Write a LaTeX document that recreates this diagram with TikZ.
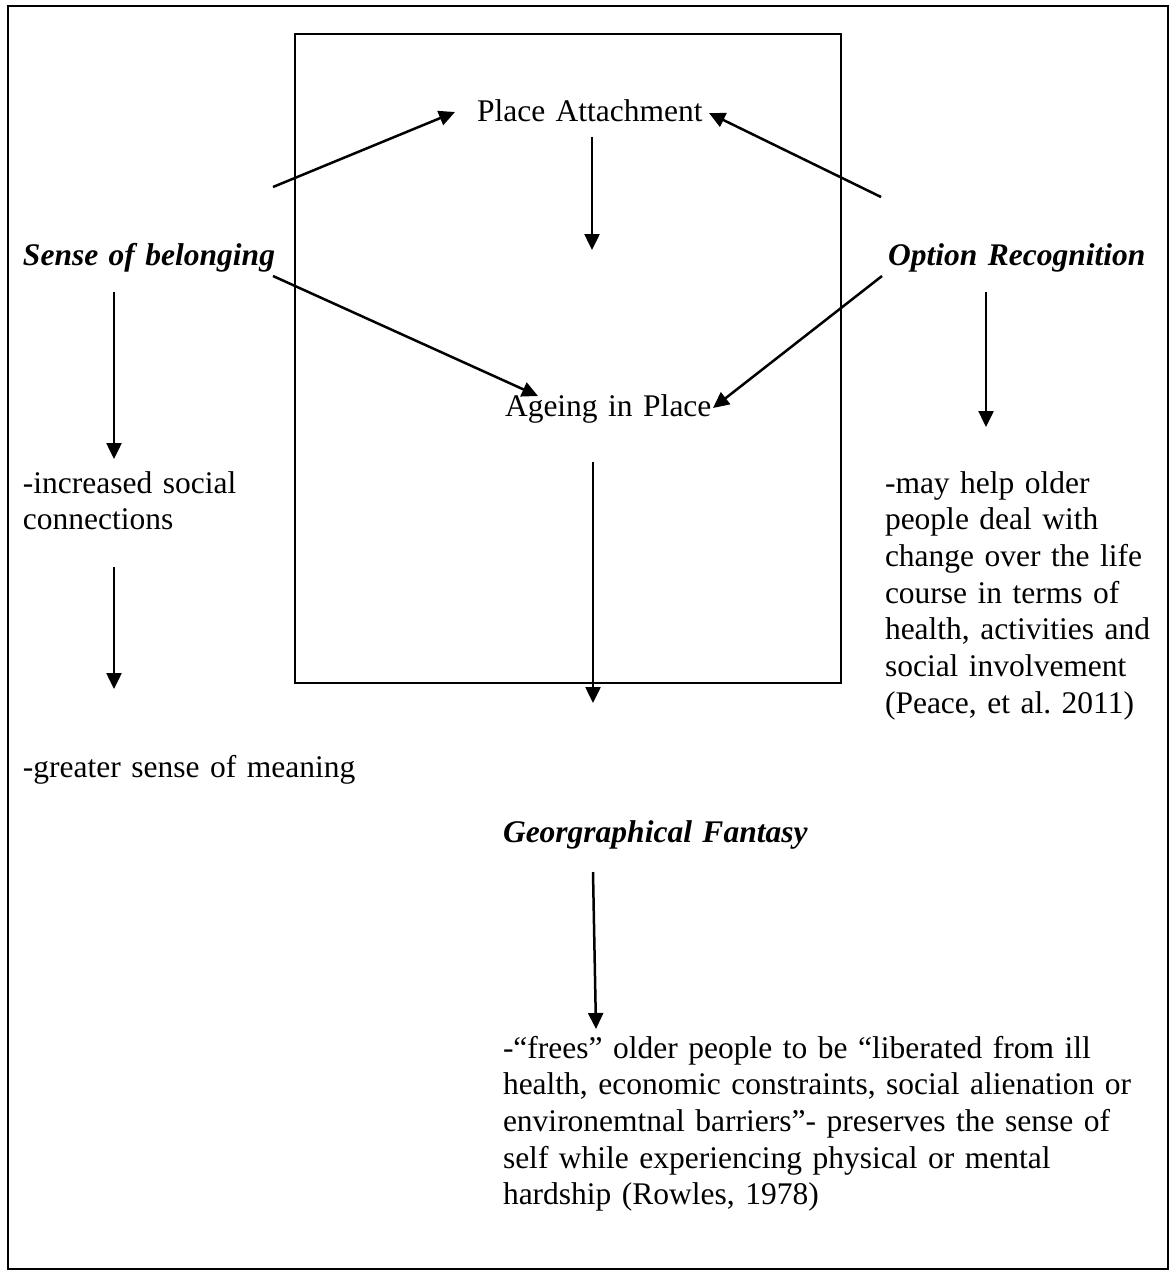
\documentclass[tikz,border=0pt]{standalone}
\usepackage{fontspec}
\setmainfont{Liberation Serif}
\usetikzlibrary{arrows.meta}
\frenchspacing

\tikzset{
  txt/.style={anchor=base west, inner sep=0pt, outer sep=0pt,
    font=\fontsize{31.5}{36.7}\selectfont, text width=#1, align=left},
  txt/.default=640pt,
  head/.style={txt, font=\fontsize{31.5}{36.7}\selectfont\bfseries\itshape},
  link/.style={line width=2.5pt, -{Triangle[length=16pt,width=15pt]}},
  frame/.style={draw, line width=2.2pt},
  panel/.style={draw, line width=1.8pt}
}

\begin{document}
\begin{tikzpicture}[x=1pt,y=-1pt]
  \useasboundingbox (0,0) rectangle (1173,1276);

  % outer frame and central panel
  \draw[frame] (8,6) rectangle (1168,1269);
  \draw[panel] (295,34) rectangle (841,683);

  % concepts
  \node[txt] (pa)  at (477,122) {Place Attachment};
  \node[txt] (aip) at (505,416) {Ageing in Place};
  \node[head, text width=400pt] (sob) at (23,265) {Sense of belonging};
  \node[head, text width=280pt] (opr) at (888,265) {Option Recognition};
  \node[head] (geo) at (503,842) {Georgraphical Fantasy};

  % notes
  \node[txt=260pt] (inc) at (23,493) {-increased social\\connections};
  \node[txt=400pt] (mea) at (23,777) {-greater sense of meaning};
  \node[txt=282pt] (may) at (885,493) {-may help older\\people deal with\\change over the life\\course in terms of\\health, activities and\\social involvement\\(Peace, et al. 2011)};
  \node[txt] (fre) at (503,1058) {-“frees” older people to be “liberated from ill\\health, economic constraints, social alienation or\\environemtnal barriers”- preserves the sense of\\self while experiencing physical or mental\\hardship (Rowles, 1978)};

  % connector end points
  \coordinate (sobA) at (273,187);  \coordinate (paL) at (455,112);
  \coordinate (oprA) at (881,197);  \coordinate (paR) at (709,113);
  \coordinate (paB)  at (592,137);  \coordinate (paD) at (592,250);
  \coordinate (sobB) at (273,276);  \coordinate (aipL) at (538,396);
  \coordinate (oprB) at (882,276);  \coordinate (aipR) at (713,408);
  \coordinate (sobC) at (114,292);  \coordinate (incT) at (114,459);
  \coordinate (incB) at (114,567);  \coordinate (meaT) at (114,689);
  \coordinate (oprC) at (986,292);  \coordinate (mayT) at (986,427);
  \coordinate (aipB) at (593,462);  \coordinate (geoT) at (593,703);
  \coordinate (geoB) at (593,872);  \coordinate (freT) at (596,1029);

  % connectors
  \draw[link] (sobA) -- (paL);
  \draw[link] (oprA) -- (paR);
  \draw[link] (paB) -- (paD);
  \draw[link] (sobB) -- (aipL);
  \draw[link] (oprB) -- (aipR);
  \draw[link] (sobC) -- (incT);
  \draw[link] (incB) -- (meaT);
  \draw[link] (oprC) -- (mayT);
  \draw[link] (aipB) -- (geoT);
  \draw[link] (geoB) -- (freT);
\end{tikzpicture}
\end{document}
